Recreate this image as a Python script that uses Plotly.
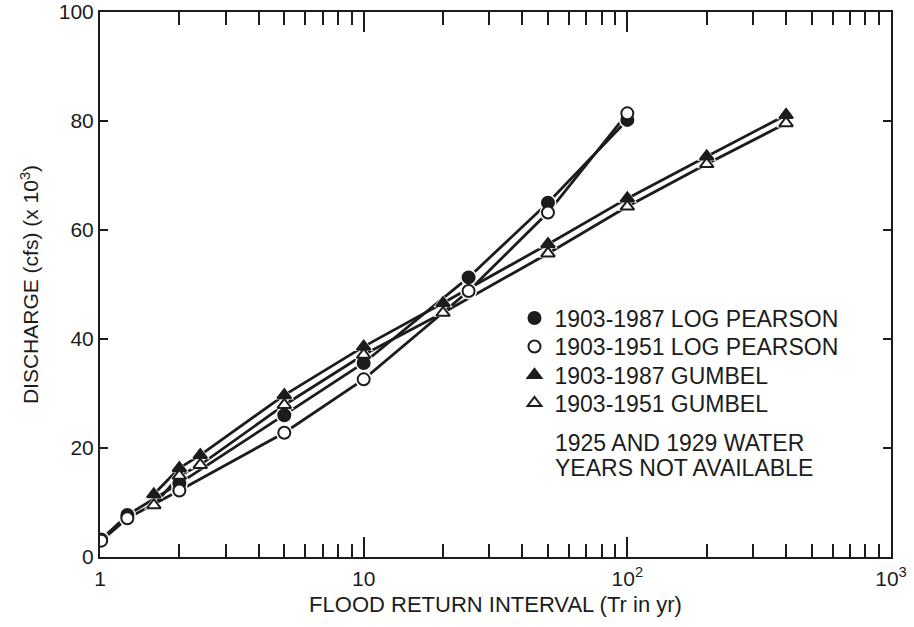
import plotly.graph_objects as go

# ---- data ----
lp_x = [1.01, 1.27, 2, 5, 10, 25, 50, 100]
lp87_y = [3.2, 7.7, 13.5, 26.0, 35.6, 51.3, 65.0, 80.2]
lp51_y = [3.0, 7.1, 12.2, 22.8, 32.6, 48.8, 63.2, 81.4]

gb_x = [1.6, 2, 2.4, 5, 10, 20, 50, 100, 200, 400]
gb87_y = [11.5, 16.3, 18.7, 29.7, 38.6, 46.6, 57.4, 65.8, 73.5, 81.1]
gb51_y = [9.5, 14.9, 16.9, 27.9, 37.1, 44.8, 55.7, 64.3, 72.1, 79.6]

names = ["1903-1987 LOG PEARSON", "1903-1951 LOG PEARSON",
         "1903-1987 GUMBEL", "1903-1951 GUMBEL"]
note_lines = ["1925 AND 1929 WATER", "YEARS NOT AVAILABLE"]

x_major = [1, 10, 100, 1000]
x_major_text = ["1", "10", "10<sup>2</sup>", "10<sup>3</sup>"]
x_minor = [m * d for d in (1, 10, 100) for m in range(2, 10)]
y_ticks = [0, 20, 40, 60, 80, 100]

INK = "#1c1c1c"
FONT = "Liberation Sans, Arial, Helvetica, sans-serif"

series = [
    (lp_x, lp87_y, "circle", INK),
    (lp_x, lp51_y, "circle", "white"),
    (gb_x, gb87_y, "triangle-up", INK),
    (gb_x, gb51_y, "triangle-up", "white"),
]
legend_ids = ["legend", "legend2", "legend3", "legend4"]
legend_y = [0.4385, 0.3862, 0.334, 0.2826]

fig = go.Figure()
# lines
for xs, ys, sym, fill in series:
    fig.add_trace(go.Scatter(x=xs, y=ys, mode="lines",
                             line=dict(color=INK, width=2.8),
                             showlegend=False, hoverinfo="skip"))
# white halos that break the lines around the markers
for xs, ys, sym, fill in series:
    fig.add_trace(go.Scatter(x=xs, y=ys, mode="markers",
                             marker=dict(symbol=sym, size=17, color="white",
                                         line=dict(width=0)),
                             showlegend=False, hoverinfo="skip"))
# markers (one legend box per series so the rows can sit close together)
for (xs, ys, sym, fill), nm, lg in zip(series, names, legend_ids):
    fig.add_trace(go.Scatter(x=xs, y=ys, mode="markers", name=nm, legend=lg,
                             marker=dict(symbol=sym, size=12, color=fill,
                                         line=dict(color=INK, width=2))))

for txt, yy in zip(note_lines, [0.209, 0.1633]):
    fig.add_annotation(text=txt, xref="paper", yref="paper",
                       x=0.573, y=yy, xanchor="left", yanchor="middle",
                       align="left", showarrow=False,
                       font=dict(size=23, color=INK, family=FONT))

fig.update_xaxes(type="log", range=[0, 3], automargin=False,
                 tickvals=x_major, ticktext=x_major_text,
                 ticks="inside", ticklen=20, tickwidth=2, tickcolor=INK,
                 showline=True, linewidth=2, linecolor=INK, mirror="ticks",
                 showgrid=False, zeroline=False, ticklabelstandoff=2,
                 minor=dict(tickvals=x_minor, ticks="inside", ticklen=13,
                            tickwidth=2, tickcolor=INK, showgrid=False),
                 tickfont=dict(size=21, color=INK, family=FONT),
                 title=dict(text="FLOOD RETURN INTERVAL (Tr in yr)",
                            font=dict(size=22, color=INK, family=FONT),
                            standoff=7))
fig.update_yaxes(range=[0, 100], tickvals=y_ticks, automargin=False,
                 ticks="inside", ticklen=8, tickwidth=2, tickcolor=INK,
                 showline=True, linewidth=2, linecolor=INK, mirror="ticks",
                 showgrid=False, zeroline=False,
                 tickfont=dict(size=21, color=INK, family=FONT),
                 title=dict(text="DISCHARGE (cfs) (x 10<sup>3</sup>)",
                            font=dict(size=21, color=INK, family=FONT),
                            standoff=14))

legend_style = dict(x=0.524, xanchor="left", yanchor="middle",
                    bgcolor="rgba(0,0,0,0)", borderwidth=0,
                    font=dict(size=23, color=INK, family=FONT),
                    itemclick=False, itemdoubleclick=False)
fig.update_layout(
    width=914, height=627,
    margin=dict(l=100, r=23, t=12, b=70),
    paper_bgcolor="white", plot_bgcolor="white",
    font=dict(family=FONT, color=INK, size=21),
    showlegend=True,
    legend=dict(y=legend_y[0], **legend_style),
    legend2=dict(y=legend_y[1], **legend_style),
    legend3=dict(y=legend_y[2], **legend_style),
    legend4=dict(y=legend_y[3], **legend_style),
)

fig.write_html("out.html", config={"displayModeBar": False},
               post_script="document.body.style.margin='0';")
